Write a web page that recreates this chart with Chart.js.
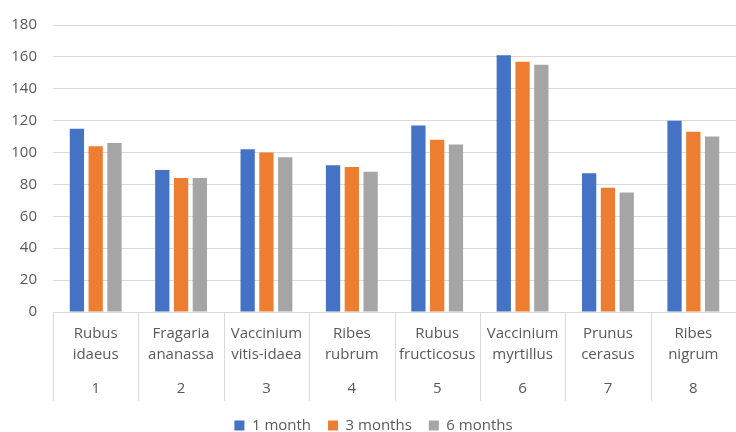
<!DOCTYPE html>
<html>
<head>
<meta charset="utf-8">
<script src="https://cdn.jsdelivr.net/npm/chart.js@4"></script>
<style>
  html, body { margin: 0; padding: 0; background: #fff; }
  #wrap { width: 736px; height: 432px; }
</style>
</head>
<body>
<div id="wrap"><canvas id="chart"></canvas></div>
<script>
const species = [
  ['Rubus', 'idaeus'],
  ['Fragaria', 'ananassa'],
  ['Vaccinium', 'vitis-idaea'],
  ['Ribes', 'rubrum'],
  ['Rubus', 'fructicosus'],
  ['Vaccinium', 'myrtillus'],
  ['Prunus', 'cerasus'],
  ['Ribes', 'nigrum']
];
const groupNumbers = ['1', '2', '3', '4', '5', '6', '7', '8'];

const oneMonth = [115, 89, 102, 92, 117, 161, 87, 120];
const threeMonths = [104, 84, 100, 91, 108, 157, 78, 113];
const sixMonths = [106, 84, 97, 88, 105, 155, 75, 110];

const yTicks = { min: 0, max: 180, step: 20 };

const gridColor = '#d9d9d9';
const textColor = '#595959';

// vertical separators between the categories, below the axis line
const separators = {
  id: 'separators',
  afterDraw(chart) {
    const xScale = chart.scales.x;
    const x2Scale = chart.scales.x2;
    const half = (xScale.getPixelForValue(1) - xScale.getPixelForValue(0)) / 2;
    const ctx = chart.ctx;
    ctx.save();
    ctx.strokeStyle = gridColor;
    ctx.lineWidth = 1;
    ctx.beginPath();
    for (let i = 0; i <= species.length; i++) {
      const x = Math.round(xScale.getPixelForValue(i) - half) + 0.5;
      ctx.moveTo(x, chart.chartArea.bottom);
      ctx.lineTo(x, x2Scale.bottom);
    }
    ctx.stroke();
    ctx.restore();
  }
};

const plot = new Chart(document.getElementById('chart').getContext('2d'), {
  type: 'bar',
  data: {
    labels: species,
    datasets: [
      { label: '1 month', data: oneMonth, backgroundColor: '#4472C4' },
      { label: '3 months', data: threeMonths, backgroundColor: '#ED7D31' },
      { label: '6 months', data: sixMonths, backgroundColor: '#A5A5A5' }
    ]
  },
  options: {
    responsive: true,
    maintainAspectRatio: false,
    animation: false,
    datasets: {
      bar: { categoryPercentage: 0.66, barPercentage: 0.76 }
    },
    layout: { padding: { left: 11, top: 21, right: 0, bottom: 0 } },
    font: { family: '"Open Sans", sans-serif', size: 15 },
    plugins: {
      tooltip: { enabled: false },
      legend: {
        position: 'bottom',
        maxHeight: 31,
        labels: {
          color: textColor,
          boxWidth: 10,
          boxHeight: 10,
          padding: 17,
          font: { family: '"Open Sans", sans-serif', size: 15 }
        }
      }
    },
    scales: {
      x: {
        grid: { display: false, drawTicks: false },
        border: { display: true, color: gridColor },
        ticks: {
          color: textColor,
          padding: 11.5,
          maxRotation: 0,
          autoSkip: false,
          font: { family: '"Open Sans", sans-serif', size: 15, lineHeight: 1.4 }
        }
      },
      x2: {
        type: 'category',
        labels: groupNumbers,
        position: 'bottom',
        grid: { display: false, drawTicks: false },
        border: { display: false },
        ticks: {
          color: textColor,
          padding: 1.5,
          font: { family: '"Open Sans", sans-serif', size: 15, lineHeight: 1.4 }
        }
      },
      y: {
        min: yTicks.min,
        max: yTicks.max,
        grid: { color: gridColor, drawTicks: false },
        border: { display: false },
        afterFit(scale) {
          scale.width = 42;
        },
        ticks: {
          stepSize: yTicks.step,
          color: textColor,
          padding: 16,
          font: { family: '"Open Sans", sans-serif', size: 15 }
        }
      }
    }
  },
  plugins: [separators]
});
</script>
</body>
</html>
